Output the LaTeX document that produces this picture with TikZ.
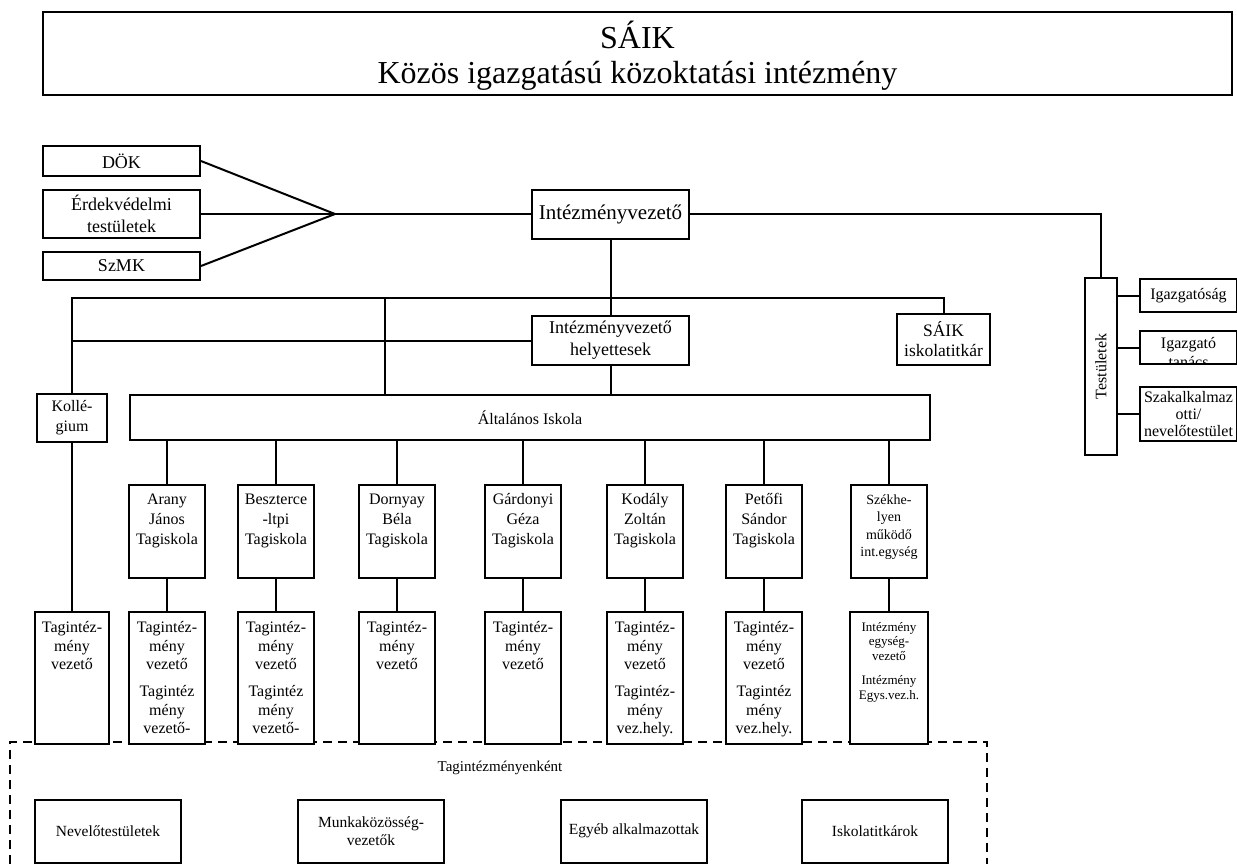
\documentclass[tikz,border=0pt]{standalone}
\usepackage{fontspec}
\setmainfont{Liberation Serif}
\newcommand{\fs}[2]{\fontsize{#1}{#2}\selectfont}
% width, height, top space, text
\newcommand{\tb}[4]{\parbox[c][#2][t]{#1}{\centering\vspace*{#3}\strut #4}}
\begin{document}
\begin{tikzpicture}[x=1pt,y=-1pt,
  box/.style={draw,line width=2pt,fill=white,inner sep=0pt,align=center,font=\fs{16}{18.5}},
  ln/.style={line width=2pt},
  dsh/.style={line width=1.6pt,dash pattern=on 9pt off 6pt}]
\useasboundingbox (0,0) rectangle (1237,864);

% dashed frame (behind the boxes)
\draw[dsh] (10,864) -- (10,742) -- (987,742) -- (987,864);

% title
\node[box,minimum width=1189pt,minimum height=83pt] (title) at (637.5,53.5) {};
\node[font=\fs{32}{35},align=center,inner sep=0pt] (titletxt) at ([yshift=-2.5pt]title.center)
  {SÁIK\\Közös igazgatású közoktatási intézmény};

% left group
\node[box,minimum width=157pt,minimum height=30pt,font=\fs{18}{22}] (dok) at (121.5,161) {DÖK};
\node[box,minimum width=157pt,minimum height=48pt,font=\fs{18}{22.5}] (erd) at (121.5,214) {Érdekvédelmi\\testületek};
\node[box,minimum width=157pt,minimum height=28pt,font=\fs{18}{22}] (szmk) at (121.5,266) {SzMK};
\coordinate (J) at (335,214);

% head
\node[box,minimum width=157pt,minimum height=49pt,font=\fs{21}{24}] (iv) at (610.5,214) {Intézményvezető};
\node[box,minimum width=157pt,minimum height=49pt,font=\fs{18}{22}] (hely) at (610.5,340.5) {Intézményvezető\\helyettesek};
\node[box,minimum width=93pt,minimum height=51pt,font=\fs{17.5}{20}] (sk) at (943.5,339.5) {SÁIK\\iskolatitkár};

% Testületek
\node[box,minimum width=32pt,minimum height=177pt] (test) at (1101,366.5) {};
\node[rotate=90,font=\fs{16}{19},inner sep=0pt] (testlbl) at (test.center) {Testületek};
\node[box,minimum width=97pt,minimum height=33pt,font=\fs{16}{19}] (ig1) at (1188.5,295.5) {Igazgatóság};
\node[box,minimum width=97pt,minimum height=33pt] (ig2) at (1188.5,347.5) {};
\begin{scope}
  \clip ([shift={(2,-2)}]ig2.south west) rectangle ([shift={(-2,2)}]ig2.north east);
  \node[anchor=north,font=\fs{16}{19},align=center,inner sep=0pt] (ig2t) at ([yshift=-7pt]ig2.north) {Igazgató\\tanács};
\end{scope}
\node[box,minimum width=97pt,minimum height=54pt,font=\fs{16}{17}] (ig3) at (1188.5,414) {Szakalkalmaz\\otti/\\nevelőtestület};

% second level
\node[box,minimum width=70pt,minimum height=48pt,font=\fs{16}{20}] (koll) at (72,418) {Kollé-\\gium};
\node[box,minimum width=800pt,minimum height=45pt] (alt) at (530,417.5) {Általános Iskola};

% tagiskolák
\node[box,font=\fs{16}{20}] (a1) at (167,531.5) {\tb{76pt}{93pt}{5pt}{Arany\\János\\Tagiskola}};
\node[box,font=\fs{16}{20}] (a2) at (276,531.5) {\tb{76pt}{93pt}{5pt}{Beszterce\\-ltpi\\Tagiskola}};
\node[box,font=\fs{16}{20}] (a3) at (397,531.5) {\tb{76pt}{93pt}{5pt}{Dornyay\\Béla\\Tagiskola}};
\node[box,font=\fs{16}{20}] (a4) at (523,531.5) {\tb{76pt}{93pt}{5pt}{Gárdonyi\\Géza\\Tagiskola}};
\node[box,font=\fs{16}{20}] (a5) at (645,531.5) {\tb{76pt}{93pt}{5pt}{Kodály\\Zoltán\\Tagiskola}};
\node[box,font=\fs{16}{20}] (a6) at (764,531.5) {\tb{76pt}{93pt}{5pt}{Petőfi\\Sándor\\Tagiskola}};
\node[box,font=\fs{14}{17.5}] (a7) at (889,531.5) {\tb{76pt}{93pt}{7pt}{Székhe-\\lyen\\működő\\int.egység}};

% tagintézmény vezetők
\node[box] (b0) at (72,678) {\tb{74pt}{132pt}{8pt}{Tagintéz-\\mény\\vezető}};
\node[box] (b1) at (167,678) {\tb{76pt}{132pt}{8pt}{Tagintéz-\\mény\\vezető\\[8.5pt]Tagintéz\\mény\\vezető-}};
\node[box] (b2) at (276,678) {\tb{76pt}{132pt}{8pt}{Tagintéz-\\mény\\vezető\\[8.5pt]Tagintéz\\mény\\vezető-}};
\node[box] (b3) at (397,678) {\tb{76pt}{132pt}{8pt}{Tagintéz-\\mény\\vezető}};
\node[box] (b4) at (523,678) {\tb{76pt}{132pt}{8pt}{Tagintéz-\\mény\\vezető}};
\node[box] (b5) at (645,678) {\tb{76pt}{132pt}{8pt}{Tagintéz-\\mény\\vezető\\[8.5pt]Tagintéz-\\mény\\vez.hely.}};
\node[box] (b6) at (764,678) {\tb{76pt}{132pt}{8pt}{Tagintéz-\\mény\\vezető\\[8.5pt]Tagintéz\\mény\\vez.hely.}};
\node[box,font=\fs{13}{14.5}] (b7) at (889,678) {\tb{78pt}{132pt}{9pt}{Intézmény\\egység-\\vezető\\[10pt]Intézmény\\Egys.vez.h.}};

% bottom area
\node[font=\fs{15}{18},inner sep=0pt] (tagl) at (500,768) {Tagintézményenként};
\node[box,minimum width=146pt,minimum height=63pt,font=\fs{15.5}{18}] (n1) at (108,831) {Nevelőtestületek};
\node[box,minimum width=146pt,minimum height=63pt,font=\fs{15.5}{18}] (n2) at (371,831) {Munkaközösség-\\vezetők};
\node[box,minimum width=146pt,minimum height=63pt,font=\fs{15.5}{18}] (n3) at (634,831) {Egyéb alkalmazottak};
\node[box,minimum width=146pt,minimum height=63pt,font=\fs{15.5}{18}] (n4) at (875,831) {Iskolatitkárok};

% connectors
\draw[ln] (dok.east) -- (J);
\draw[ln] (erd.east) -- (J);
\draw[ln] (szmk.east) -- (J);
\draw[ln] (J) -- (iv.west);
\draw[ln] (iv.east) -| (test.north);
\draw[ln] (iv.south) -- (hely.north);
\coordinate (bus) at (0,298);
\draw[ln] (koll.north) -- (koll.north |- bus) -- (sk.north |- bus) -- (sk.north);
\coordinate (v385) at (385,298);
\draw[ln] (v385) -- (v385 |- alt.north);
\draw[ln] (hely.west) -- (hely.west -| koll.north);
\draw[ln] (hely.south) -- (hely.south |- alt.north);
\foreach \i in {1,...,7}{
  \draw[ln] (alt.south -| a\i.north) -- (a\i.north);
  \draw[ln] (a\i.south) -- (b\i.north);
}
\draw[ln] (koll.south) -- (b0.north);
\draw[ln] (test.east |- ig1.west) -- (ig1.west);
\draw[ln] (test.east |- ig2.west) -- (ig2.west);
\draw[ln] (test.east |- ig3.west) -- (ig3.west);
\end{tikzpicture}
\end{document}
